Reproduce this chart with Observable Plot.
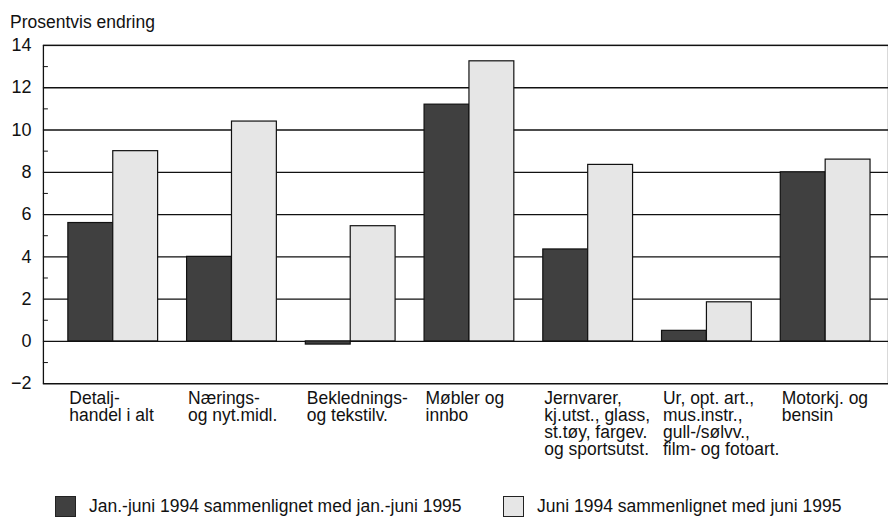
<!DOCTYPE html>
<html>
<head>
<meta charset="utf-8">
<script src="https://cdn.jsdelivr.net/npm/d3@7"></script>
<script src="https://cdn.jsdelivr.net/npm/@observablehq/plot@0.6"></script>
<style>
  html, body { margin: 0; padding: 0; background: #fff; overflow: hidden; }
  body { width: 888px; height: 523px; position: relative;
         font-family: "Liberation Sans", Arial, sans-serif; color: #111; }
  #title { position: absolute; left: 10px; top: 12px; font-size: 17.5px; line-height: 20px; }
  #chart { position: absolute; left: 0; top: 26px; }
  .leg { position: absolute; top: 495px; display: flex; align-items: center; font-size: 17.5px; line-height: 22px; }
  .sw { width: 21px; height: 21px; box-sizing: border-box; border: 1.3px solid #222; margin-right: 13px; }
</style>
</head>
<body>
<div id="title">Prosentvis endring</div>
<div id="chart"></div>
<div class="leg" style="left:55px"><div class="sw" style="background:#404040"></div><span>Jan.-juni 1994 sammenlignet med jan.-juni 1995</span></div>
<div class="leg" style="left:503px"><div class="sw" style="background:#e6e6e6"></div><span>Juni 1994 sammenlignet med juni 1995</span></div>
<script>
const categories = [
  "Detalj-\nhandel i alt",
  "Nærings-\nog nyt.midl.",
  "Beklednings-\nog tekstilv.",
  "Møbler og\ninnbo",
  "Jernvarer,\nkj.utst., glass,\nst.tøy, fargev.\nog sportsutst.",
  "Ur, opt. art.,\nmus.instr.,\ngull-/sølvv.,\nfilm- og fotoart.",
  "Motorkj. og\nbensin"
];
const janJuni = [5.6, 4.0, -0.15, 11.2, 4.35, 0.5, 8.0];
const juni = [9.0, 10.4, 5.45, 13.25, 8.35, 1.85, 8.6];
const majorTicks = [-2, 0, 2, 4, 6, 8, 10, 12, 14];
const minorTicks = [-1, 1, 3, 5, 7, 9, 11, 13];

const rows = categories.map((c, i) => ({cat: c, a: janJuni[i], b: juni[i]}));
const font = '"Liberation Sans", Arial, sans-serif';

const chart = Plot.plot({
  width: 890,
  height: 434,
  marginTop: 19,
  marginBottom: 76,
  marginLeft: 43,
  marginRight: 0,
  style: {fontFamily: font, fontSize: "17.5px", color: "#111", background: "transparent", overflow: "visible"},
  x: {domain: categories, range: [68, 872], paddingInner: 0.244, paddingOuter: 0, align: 0, round: false, label: null},
  y: {domain: [-2, 14], label: null},
  marks: [
    Plot.gridY(majorTicks, {stroke: "#111", strokeOpacity: 1, strokeWidth: 1.3}),
    Plot.frame({stroke: "#111", strokeWidth: 1.3}),
    Plot.barY(rows, {x: "cat", y: "a", fill: "#404040", stroke: "#111", strokeWidth: 1.2, insetRight: 45}),
    Plot.barY(rows, {x: "cat", y: "b", fill: "#e6e6e6", stroke: "#111", strokeWidth: 1.2, insetLeft: 45}),
    Plot.axisY(majorTicks, {tickSize: 0, tickPadding: 12, fontSize: 18}),
    Plot.axisY(minorTicks, {tickSize: -5, text: null, stroke: "#111"}),
    Plot.axisX({tickSize: 0, tickPadding: 8, textAnchor: "start", dx: -44, lineAnchor: "top", lineHeight: 0.98, fontSize: 17.5})
  ]
});
document.getElementById("chart").appendChild(chart);
</script>
</body>
</html>
